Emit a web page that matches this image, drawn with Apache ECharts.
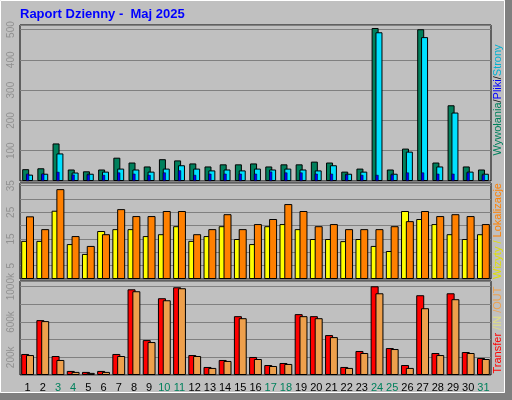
<!DOCTYPE html>
<html>
<head>
<meta charset="utf-8">
<script src="https://cdn.jsdelivr.net/npm/echarts@6/dist/echarts.min.js"></script>
<style>html,body{margin:0;padding:0;background:#c0c0c0}#chart{width:512px;height:400px}</style>
</head>
<body>
<div id="chart"></div>
<script>
const days = ['1','2','3','4','5','6','7','8','9','10','11','12','13','14','15','16',
  '17','18','19','20','21','22','23','24','25','26','27','28','29','30','31'];
const weekend = ['3','4','10','11','17','18','24','25','31'];

const hits = [39,42,124,38,32,38,77,61,48,72,68,58,48,55,55,58,48,55,55,64,61,31,41,505,38,107,501,61,250,48,38];
const files = [21,24,91,28,24,31,41,38,31,41,52,41,35,38,35,41,38,41,38,35,52,24,31,491,24,97,475,48,226,31,24];
const pages = [24,24,30,21,21,20,28,24,20,28,35,20,24,24,24,24,31,28,28,24,24,21,20,20,21,28,28,24,24,28,20];

const visits = [14.3,14.3,25.6,13.1,9.4,18,18.7,18.7,16.1,16.8,19.8,14.3,16.1,19.8,15,13.1,
  19.8,20.6,18.7,15,15,14.2,15,12.4,10.5,25.5,22.5,20.6,16.8,15,16.8];
const sites = [23.5,18.7,33.7,16.1,12.4,16.8,26.2,23.6,23.6,25.5,25.5,16.8,18.7,24.3,18.7,20.6,
  22.5,28.1,25.5,19.8,20.6,18.7,18.7,18.7,19.8,21.7,25.5,23.6,24.3,23.6,20.6];

const kbIn = [238,621,215,46,35,46,238,970,395,869,993,226,91,170,666,204,
  113,136,689,666,452,91,272,1004,305,113,903,249,925,260,193];
const kbOut = [226,610,170,35,24,35,215,948,373,846,982,215,80,159,643,181,
  102,125,666,643,429,80,249,925,294,80,756,226,858,249,181];

const chart = echarts.init(document.getElementById('chart'));
const grids = [
  { left: 20, width: 471, top: 25, height: 156 },
  { left: 20, width: 471, top: 183, height: 96 },
  { left: 20, width: 471, top: 281, height: 94 }
];

function xAxis(grid, show) {
  return {
    type: 'category', data: days, gridIndex: grid,
    axisLine: { show: false }, axisTick: { show: false },
    axisLabel: show ? {
      show: true, interval: 0, margin: 7, fontSize: 11, fontFamily: 'Liberation Sans',
      color: (v) => weekend.includes(v) ? '#00805c' : '#000'
    } : { show: false }
  };
}
function yAxis(grid, max, interval, fmt) {
  return {
    type: 'value', gridIndex: grid, min: 0, max: max, interval: interval,
    axisLine: { show: false }, axisTick: { show: false },
    splitLine: { lineStyle: { color: '#808080', width: 1 } },
    axisLabel: {
      rotate: 90, margin: 4, fontSize: 10, color: '#909090', fontFamily: 'Liberation Sans',
      showMinLabel: false, showMaxLabel: false, formatter: fmt
    }
  };
}
const bar = (name, data, x, y, color, width, extra) => Object.assign({
  type: 'bar', name, data, xAxisIndex: x, yAxisIndex: y, barWidth: width,
  barGap: '-45%', animation: false,
  itemStyle: { color, borderColor: '#000', borderWidth: 1 }
}, extra || {});

const vtext = (x, y, parts) => ({
  type: 'text', x, y, rotation: Math.PI / 2,
  style: {
    text: parts.map(p => '{' + p[1] + '|' + p[0] + '}').join(''),
    align: 'center', verticalAlign: 'middle',
    rich: Object.fromEntries(parts.map(p => [p[1], { fill: p[2], fontSize: 11, fontFamily: 'Liberation Sans' }]))
  }
});

chart.setOption({
  backgroundColor: '#c0c0c0',
  grid: grids.map(g => Object.assign({ show: true, borderColor: '#000', borderWidth: 1, backgroundColor: '#c0c0c0' }, g)),
  xAxis: [xAxis(0, false), xAxis(1, false), xAxis(2, true), xAxis(0, false)],
  yAxis: [
    yAxis(0, 515, 100),
    yAxis(1, 36, 5, v => (v / 5) % 2 === 1 ? String(v) : ''),
    yAxis(2, 1064, 200, v => (v / 200) % 2 === 1 ? v + 'k' : '')
  ],
  series: [
    bar('Wywołania', hits, 0, 0, '#00805c', 7),
    bar('Pliki', files, 0, 0, '#00e0ff', 7),
    bar('Strony', pages, 3, 0, '#0000ff', 3, { z: 5, itemStyle: { color: '#0000ff', borderColor: '#000', borderWidth: 0.5 } }),
    bar('Wizyty', visits, 1, 1, '#ffff00', 8, { barGap: '-40%' }),
    bar('Lokalizacje', sites, 1, 1, '#ff8000', 8, { barGap: '-40%' }),
    bar('IN', kbIn, 2, 2, '#ff0000', 8, { barGap: '-40%' }),
    bar('OUT', kbOut, 2, 2, '#eea04c', 8, { barGap: '-40%' })
  ],
  graphic: [
    { type: 'rect', shape: { x: 505, y: 0, width: 7, height: 400 }, style: { fill: '#808080' } },
    { type: 'rect', shape: { x: 0, y: 393, width: 512, height: 7 }, style: { fill: '#808080' } },
    { type: 'rect', shape: { x: 0.5, y: 0.5, width: 504, height: 392 }, style: { fill: 'none', stroke: '#fff' } },
    { type: 'text', x: 20, y: 8, style: { text: 'Raport Dzienny -  Maj 2025', fill: '#0000ff', font: 'bold 13px "Liberation Sans"' } },
    vtext(498, 100, [['Wywołania', 'a', '#00805c'], ['/', 's', '#000'], ['Pliki', 'b', '#0000ff'], ['/', 't', '#000'], ['Strony', 'c', '#00b0d0']]),
    vtext(498, 231, [['Wizyty', 'a', '#e0e000'], [' / ', 's', '#e0e000'], ['Lokalizacje', 'b', '#ff8000']]),
    vtext(498, 330, [['Transfer', 'a', '#ff0000'], [' /IN', 'b', '#e0e080'], [' /OUT', 'c', '#eea04c']])
  ]
});
</script>
</body>
</html>
